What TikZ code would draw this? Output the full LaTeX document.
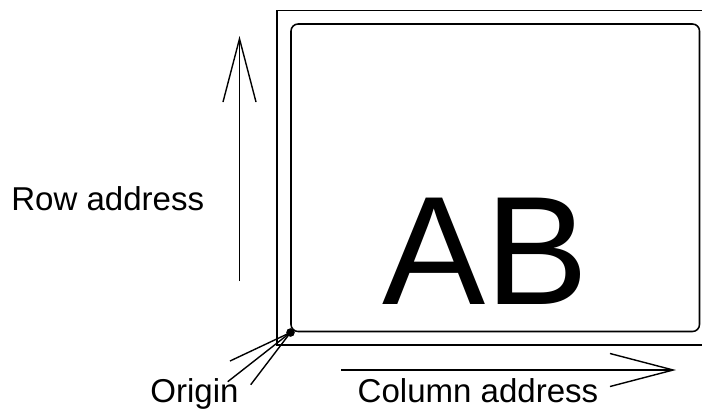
\documentclass[tikz,border=0pt]{standalone}
\usepackage{fontspec}
\setmainfont{Liberation Sans}
\usetikzlibrary{arrows.meta}
\tikzset{
    % Line styles
    frameline/.style={
        draw=black,
        line width=1.1pt
    },
    addrarrow/.style={
        draw=black,
        line width=1pt,
        -{Straight Barb[length=45pt,width=23.5pt,line width=1pt]}
    },
    % Text styles
    addrlabel/.style={
        inner sep=0pt,
        font=\fontsize{23.5pt}{26pt}\selectfont
    },
    biglabel/.style={
        inner sep=0pt,
        font=\fontsize{110pt}{120pt}\selectfont
    }
}
\begin{document}
\begin{tikzpicture}[x=0.025cm, y=-0.025cm]
    \useasboundingbox (0,0) rectangle (702,410);

    % Outer frame (open to the right)
    \draw[frameline] (705,10.7) -- (277,10.7) -- (277,345) -- (705,345);

    % Inner rounded frame
    \draw[frameline, rounded corners=5pt] (291,24) rectangle (699.5,331.5);

    % Origin point
    \coordinate (origin) at (290.5,332.5);
    \fill (origin) circle (4.3);

    % Row address arrow
    \coordinate (rowstart) at (239.5,281);
    \coordinate (rowend) at (239.5,36);
    \draw[addrarrow] (rowstart) -- (rowend);
    \node[addrlabel, anchor=base west] (rowlabel) at (11,210) {Row address};

    % Column address arrow
    \coordinate (colstart) at (341,370);
    \coordinate (colend) at (676,370);
    \draw[addrarrow] (colstart) -- (colend);
    \node[addrlabel, anchor=base] (collabel) at (478,402) {Column address};

    % Origin label and pointer lines
    \node[addrlabel, anchor=base] (originlabel) at (194.5,402) {Origin};
    \coordinate (ptrA) at (230,361);
    \coordinate (ptrB) at (227.7,381.7);
    \coordinate (ptrC) at (250.7,384.7);
    \foreach \p in {ptrA,ptrB,ptrC}
        \draw[line width=1pt] (origin) -- (\p);

    % Big letters
    \node[biglabel] (letters) at (485.5,251.5) {AB};
\end{tikzpicture}
\end{document}
